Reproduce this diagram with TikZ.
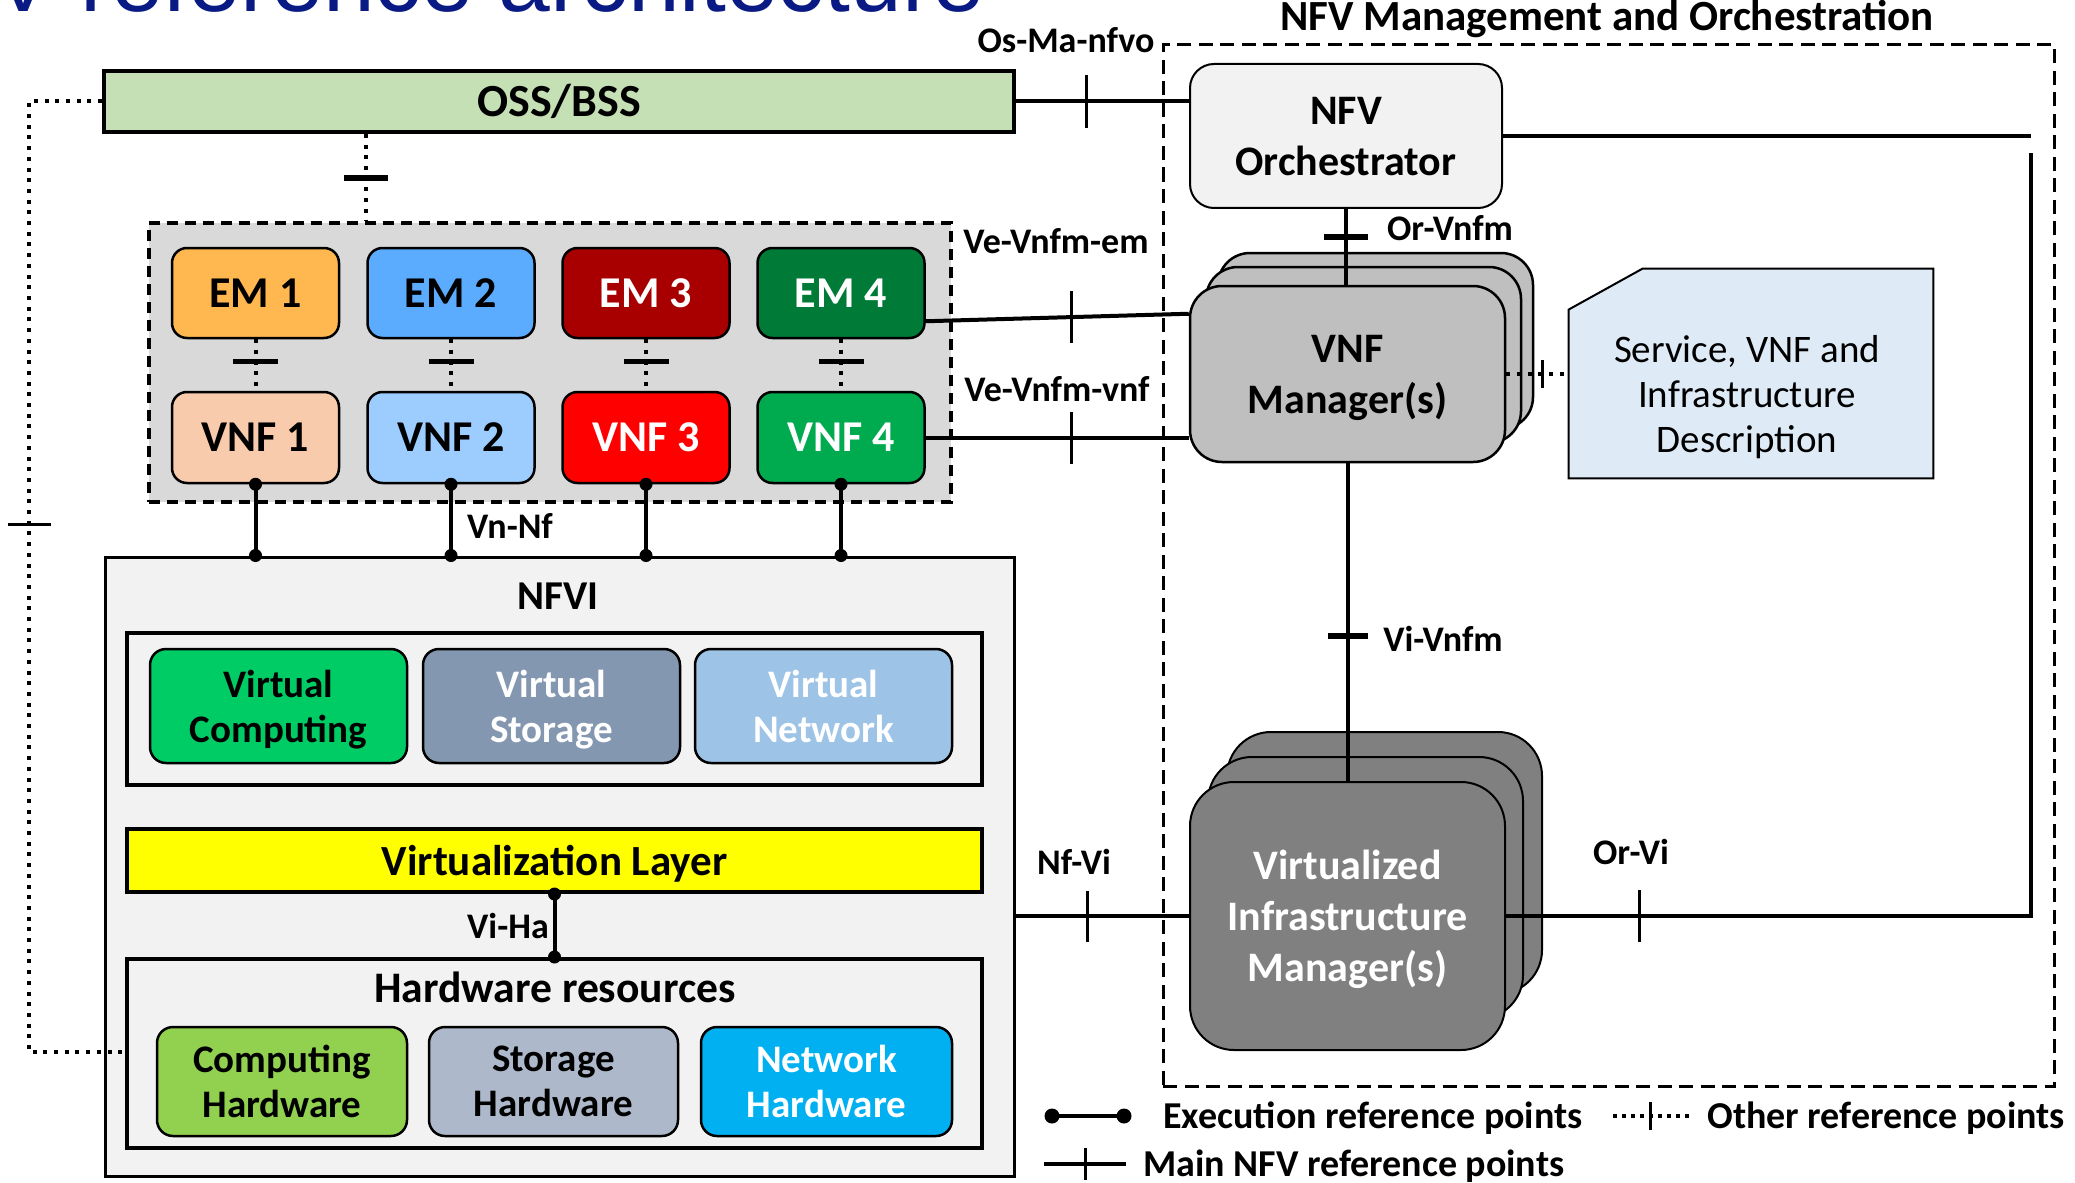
\documentclass[tikz,border=0pt]{standalone}
\usepackage{fontspec}
\setmainfont{Carlito}
\newfontfamily\titlefont{Liberation Sans}
\usetikzlibrary{calc}

\definecolor{navy}{RGB}{10,26,132}
\definecolor{cOSS}{HTML}{C5E0B4}
\definecolor{cGrp}{HTML}{D9D9D9}
\definecolor{cBG}{HTML}{F2F2F2}
\definecolor{cEMa}{HTML}{FFB84F}
\definecolor{cEMb}{HTML}{5BACFF}
\definecolor{cEMc}{HTML}{A80000}
\definecolor{cEMd}{HTML}{007A37}
\definecolor{cVNFa}{HTML}{F8CBAD}
\definecolor{cVNFb}{HTML}{9DCDFF}
\definecolor{cVNFc}{HTML}{FF0000}
\definecolor{cVNFd}{HTML}{00AA4E}
\definecolor{cVC}{HTML}{00CC66}
\definecolor{cVS}{HTML}{8497B0}
\definecolor{cVN}{HTML}{9DC3E6}
\definecolor{cVL}{HTML}{FFFF00}
\definecolor{cCH}{HTML}{92D050}
\definecolor{cSH}{HTML}{ADB9CA}
\definecolor{cNH}{HTML}{00B0F0}
\definecolor{cVNFM}{HTML}{BFBFBF}
\definecolor{cVIM}{HTML}{808080}
\definecolor{cDoc}{HTML}{DEEBF7}

\begin{document}
\begin{tikzpicture}[x=0.5pt,y=-0.5pt,
  conn/.style={line width=2pt},
  dotln/.style={line width=2pt, dash pattern=on 2pt off 3.35pt},
  tv/.style={line width=1.5pt},
  th/.style={line width=2.75pt},
  wh/.style 2 args={minimum width=#1*0.5pt, minimum height=#2*0.5pt},
  box/.style={draw, line width=1.25pt, rounded corners=7.5pt, inner sep=0pt, align=center},
  plain/.style={draw, line width=2pt, inner sep=0pt, align=center},
  lbl/.style={font=\bfseries\fontsize{18}{21}\selectfont, inner sep=0pt, anchor=base},
  emf/.style={font=\bfseries\fontsize{22}{26}\selectfont},
  bigf/.style={font=\bfseries\fontsize{21}{25.5}\selectfont, text depth=0pt},
  midf/.style={font=\bfseries\fontsize{19.5}{22.5}\selectfont, text depth=0pt},
  legf/.style={font=\bfseries\fontsize{19}{22}\selectfont, inner sep=0pt, anchor=base west},
]
\useasboundingbox (0,0) rectangle (2075,1182);
\clip (0,0) rectangle (2075,1182);

% heading of the slide
\node[anchor=base west, inner sep=0pt, text=navy,
      font=\titlefont\fontsize{46.5}{50}\selectfont] (title) at (-132,12) {NFV reference architecture};

% ---------- MANO domain ----------
\node[draw, line width=1.5pt, dash pattern=on 7pt off 3.75pt, inner sep=0pt, wh={891}{1041}] (mano) at (1608.5,565.5) {};
\node[anchor=base, inner sep=0pt, font=\bfseries\fontsize{21.5}{25}\selectfont] (manoT) at (1607,31) {NFV Management and Orchestration};

% ---------- OSS/BSS ----------
\node[plain, fill=cOSS, wh={910}{61}, font=\bfseries\fontsize{23}{27}\selectfont] (oss) at (559,101.5) {OSS/BSS};

% ---------- EM / VNF group ----------
\node[draw, line width=2pt, dash pattern=on 5.5pt off 3.5pt, fill=cGrp, inner sep=0pt, wh={802}{279}] (grp) at (550,362.5) {};
\foreach \i/\x/\ce/\te/\cv/\tc in {1/255.5/cEMa/black/cVNFa/black,
                                   2/451/cEMb/black/cVNFb/black,
                                   3/646/cEMc/white/cVNFc/white,
                                   4/841/cEMd/white/cVNFd/white}{
  \node[box, emf, fill=\ce, text=\te, wh={167}{90}] (em\i) at (\x,293) {EM \i};
  \node[box, emf, fill=\cv, text=\tc, wh={167}{91}] (vnf\i) at (\x,437.5) {VNF \i};
}

% ---------- NFVI ----------
\node[draw, line width=1.5pt, fill=cBG, inner sep=0pt, wh={909}{619}] (nfvi) at (559.5,866.5) {};
\node[inner sep=0pt, font=\bfseries\fontsize{20.5}{24}\selectfont] (nfviT) at (558,596) {NFVI};
\node[plain, fill=cBG, wh={855}{152}] (virt) at (554.5,709) {};
\node[box, midf, fill=cVC, wh={257}{114}, rounded corners=8pt] (vc) at (278.5,706) {Virtual\\Computing};
\node[box, midf, fill=cVS, text=white, wh={257}{114}, rounded corners=8pt] (vs) at (551.5,706) {Virtual\\Storage};
\node[box, midf, fill=cVN, text=white, wh={257}{114}, rounded corners=8pt] (vn) at (823.5,706) {Virtual\\Network};
\node[plain, fill=cVL, wh={855}{63}, text depth=0pt, font=\bfseries\fontsize{21.5}{25}\selectfont] (vl) at (554.5,860.5) {Virtualization Layer};
\node[plain, fill=cBG, wh={855}{189}] (hw) at (554.5,1053.5) {};
\node[inner sep=0pt, font=\bfseries\fontsize{21.8}{25}\selectfont] (hwT) at (555,987) {Hardware resources};
\node[box, midf, fill=cCH, wh={250}{109}, rounded corners=8pt] (ch) at (282,1081.5) {Computing\\Hardware};
\node[box, midf, fill=cSH, wh={249}{109}, rounded corners=8pt] (sh) at (553.5,1081.5) {Storage\\Hardware};
\node[box, midf, fill=cNH, text=white, wh={251}{109}, rounded corners=8pt] (nh) at (826.5,1081.5) {Network\\Hardware};

% ---------- Orchestrator, VNFM, VIM ----------
\node[box, bigf, line width=1pt, fill=cBG, rounded corners=12pt, wh={312}{144}] (orch) at (1346,136) {NFV\\Orchestrator};

\node[box, fill=cVNFM, rounded corners=16pt, wh={315}{176}] (vnfmC) at (1375.5,341) {};
\node[box, fill=cVNFM, rounded corners=16pt, wh={315}{176}] (vnfmB) at (1363.5,355) {};
\node[box, bigf, fill=cVNFM, rounded corners=16pt, wh={315}{176}] (vnfmF) at (1347.5,374) {VNF\\Manager(s)};

\node[inner sep=0pt, wh={364}{209}] (doc) at (1751,373.5) {};
\draw[line width=1pt, fill=cDoc] (doc.south west) -- ($(doc.north west)+(0,41)$)
  -- ($(doc.north west)+(74,0)$) -- (doc.north east) -- (doc.south east) -- cycle;
\node[inner sep=0pt, align=center, font=\fontsize{19.5}{22.5}\selectfont] (docT) at (1747,397)
  {Service, VNF and\\Infrastructure\\Description};

\node[box, line width=1pt, fill=cVIM, rounded corners=22pt, wh={315}{262}] (vimC) at (1384.5,863) {};
\node[box, line width=1pt, fill=cVIM, rounded corners=22pt, wh={315}{262}] (vimB) at (1365.5,888) {};
\node[box, bigf, line width=1pt, fill=cVIM, text=white, rounded corners=22pt, wh={315}{268}] (vimF) at (1347.5,916)
  {Virtualized\\Infrastructure\\Manager(s)};

% ---------- main reference points ----------
\draw[conn] (oss.east) -- coordinate[pos=.409] (tOsMa) (oss.east -| orch.west);
\draw[tv] ([yshift=13.25pt]tOsMa) -- ([yshift=-13.25pt]tOsMa);
\node[lbl] (lOsMa) at (1066,53) {Os-Ma-nfvo};

\coordinate (rTop) at (2031,136);
\coordinate (rBot) at (2031,153);
\draw[conn] (orch.east) -- (rTop);
\draw[conn] (vimF.east) -- coordinate[pos=.254] (tOrVi) (vimF.east -| rBot) -- (rBot);
\draw[tv] ([yshift=13pt]tOrVi) -- ([yshift=-13pt]tOrVi);
\node[lbl] (lOrVi) at (1631,864) {Or-Vi};

\draw[conn] (orch.south) -- coordinate[pos=.37] (tOrVnfm) (orch.south |- vnfmF.north);
\draw[th] ([xshift=-11pt]tOrVnfm) -- ([xshift=11pt]tOrVnfm);
\node[lbl] (lOrVnfm) at (1450,241) {Or-Vnfm};

\draw[conn] (vnfmF.south) -- coordinate[pos=.544] (tViVnfm) (vnfmF.south |- vimF.north);
\draw[th] ([xshift=-10pt]tViVnfm) -- ([xshift=10pt]tViVnfm);
\node[lbl] (lViVnfm) at (1443,651) {Vi-Vnfm};

\draw[conn] ($(em4.south east)+(0,-18)$) -- coordinate[pos=.556] (tVeEm) ($(vnfmF.north west)+(0,29)$);
\draw[tv] ([yshift=13pt]tVeEm) -- ([yshift=-13pt]tVeEm);
\node[lbl] (lVeEm) at (1056,254) {Ve-Vnfm-em};

\draw[conn] (vnf4.east) -- coordinate[pos=.556] (tVeVnf) (vnf4.east -| vnfmF.west);
\draw[tv] ([yshift=13pt]tVeVnf) -- ([yshift=-13pt]tVeVnf);
\node[lbl] (lVeVnf) at (1057,401) {Ve-Vnfm-vnf};

\draw[conn] (vimF.west -| nfvi.east) -- coordinate[pos=.415] (tNfVi) (vimF.west);
\draw[tv] ([yshift=12.75pt]tNfVi) -- ([yshift=-12.75pt]tNfVi);
\node[lbl] (lNfVi) at (1074,874) {Nf-Vi};

% ---------- execution reference points ----------
\foreach \i in {1,...,4}{
  \draw[conn] (vnf\i.south) -- (vnf\i.south |- nfvi.north);
  \fill (vnf\i.south) circle[radius=3.25pt];
  \fill (vnf\i.south |- nfvi.north) circle[radius=3.25pt];
}
\node[lbl] (lVnNf) at (510,538) {Vn-Nf};

\draw[conn] (vl.south) -- (vl.south |- hw.north);
\fill (vl.south) circle[radius=3.25pt];
\fill (vl.south |- hw.north) circle[radius=3.25pt];
\node[lbl] (lViHa) at (508,938) {Vi-Ha};

% ---------- other reference points ----------
\coordinate (ossD) at ($(oss.south west)+(264,0)$);
\draw[dotln] (ossD) -- coordinate[pos=.505] (tOssGrp) (ossD |- grp.north);
\draw[th] ([xshift=-11pt]tOssGrp) -- ([xshift=11pt]tOssGrp);

\foreach \i in {1,...,4}{
  \draw[dotln] (em\i.south) -- coordinate[pos=.43] (tEV\i) (vnf\i.north);
  \draw[th] ([xshift=-11.25pt]tEV\i) -- ([xshift=11.25pt]tEV\i);
}

\draw[dotln] (vnfmF.east) -- coordinate[pos=.58] (tDoc) (vnfmF.east -| doc.west);
\draw[tv] ([yshift=7pt]tDoc) -- ([yshift=-7pt]tDoc);

\coordinate (lCorner) at (29,1052);
\coordinate (tLeft) at (29,524);
\draw[dotln] (oss.west) -| (lCorner) -- (lCorner -| hw.west);
\draw[tv] ([xshift=-10.75pt]tLeft) -- ([xshift=10.75pt]tLeft);

% ---------- legend ----------
\coordinate (lgEa) at (1052,1116);
\coordinate (lgEb) at (1124,1116);
\draw[conn] (lgEa) -- (lgEb);
\fill (lgEa) circle[radius=3.75pt];
\fill (lgEb) circle[radius=3.75pt];
\node[legf] (lgET) at (1163,1128) {Execution reference points};

\coordinate (lgOa) at (1613,1116);
\coordinate (lgOb) at (1691,1116);
\coordinate (lgOt) at (1650,1116);
\draw[line width=2pt, dash pattern=on 2pt off 2.5pt] (lgOa) -- (lgOb);
\draw[tv] ([yshift=7pt]lgOt) -- ([yshift=-7pt]lgOt);
\node[legf] (lgOT) at (1707,1128) {Other reference points};

\coordinate (lgMa) at (1044,1164);
\coordinate (lgMb) at (1126,1164);
\coordinate (lgMt) at (1085,1164);
\draw[conn] (lgMa) -- (lgMb);
\draw[tv] ([yshift=8pt]lgMt) -- ([yshift=-8pt]lgMt);
\node[legf] (lgMT) at (1143,1176) {Main NFV reference points};
\end{tikzpicture}
\end{document}
